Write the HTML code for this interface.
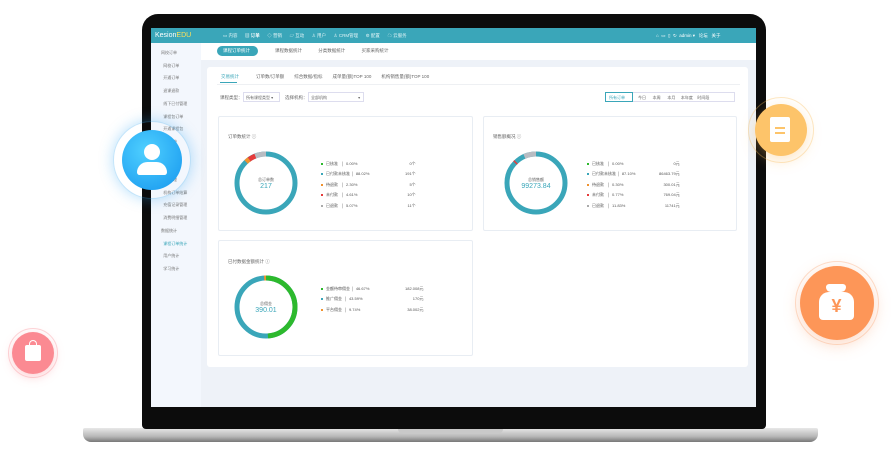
<!DOCTYPE html><html><head><meta charset="utf-8"><style>
*{margin:0;padding:0;box-sizing:border-box}
body{width:896px;height:457px;background:#fff;position:relative;overflow:hidden;font-family:"Liberation Sans","Noto Sans CJK SC",sans-serif;font-size:5px;color:#666}
.a{position:absolute}
.card{position:absolute;background:#fff;border:1px solid #e8edf3;border-radius:2px}
.t{position:absolute;white-space:nowrap}
.lg{position:absolute;font-size:4px;color:#555;white-space:nowrap}
.lg i{display:inline-block;width:2px;height:2px;margin-right:3px;vertical-align:middle}
</style></head><body>
<!-- base -->
<div class="a" style="left:83px;top:428px;width:735px;height:14px;background:linear-gradient(#e8e8e8,#b8b8b8 60%,#777);border-radius:2px 2px 8px 8px"></div>
<div class="a" style="left:398px;top:428px;width:105px;height:6px;background:#c9c9c9;border-radius:0 0 5px 5px"></div>
<!-- bezel -->
<div class="a" style="left:142px;top:14px;width:624px;height:415px;background:#0c0c0c;border-radius:16px 16px 4px 4px"></div>
<!-- screen -->
<div class="a" style="left:151px;top:28px;width:605px;height:379px;background:#eef2f8;overflow:hidden">
 <div class="a" style="left:0;top:0;width:605px;height:15px;background:#3aa6b9"></div>
 <div class="t" style="left:4px;top:4px;color:#fff;font-size:7px">Kesion<span style="color:#ffe15a">EDU</span></div>
 <div class="t" style="left:72px;top:5px;color:#dff3f6;font-size:4.5px;word-spacing:0">▭ 内容 &nbsp;&nbsp;&nbsp;&nbsp;&nbsp;<b style="color:#fff">▤ 订单</b> &nbsp;&nbsp;&nbsp;&nbsp;&nbsp;◇ 营销 &nbsp;&nbsp;&nbsp;&nbsp;&nbsp;▱ 互动 &nbsp;&nbsp;&nbsp;&nbsp;&nbsp;♙ 用户 &nbsp;&nbsp;&nbsp;&nbsp;&nbsp;♙ CRM管理 &nbsp;&nbsp;&nbsp;&nbsp;&nbsp;⚙ 配置 &nbsp;&nbsp;&nbsp;&nbsp;&nbsp;☁ 云服务</div>
 <div class="t" style="left:505px;top:5px;color:#fff;font-size:4.5px">⌂ &nbsp;▭ &nbsp;▯ &nbsp;↻ &nbsp;admin ▾ &nbsp;&nbsp;论坛 &nbsp;&nbsp;关于</div>
 <!-- sidebar -->
 <div class="a" style="left:0;top:15px;width:50px;height:364px;background:#f3f7fd"></div>
 <div class="t" style="left:10px;top:19px;line-height:12.7px;font-size:4px;color:#777">网校订单<br>&nbsp;&nbsp;网校订单<br>&nbsp;&nbsp;开通订单<br>&nbsp;&nbsp;退课退款<br>&nbsp;&nbsp;线下已付管理<br>&nbsp;&nbsp;课程包订单<br>&nbsp;&nbsp;开通课程包<br>课程订单<br>&nbsp;&nbsp;&nbsp;<br>&nbsp;&nbsp;&nbsp;<br>财务管理<br>&nbsp;&nbsp;机构订单结算<br>&nbsp;&nbsp;充值记录管理<br>&nbsp;&nbsp;消费明细管理<br>数据统计<br>&nbsp;&nbsp;<span style="color:#3aa6b9">课程订单统计</span><br>&nbsp;&nbsp;用户统计<br>&nbsp;&nbsp;学习统计</div>
 <!-- subtabs -->
 <div class="a" style="left:50px;top:15px;width:555px;height:17px;background:#fff"></div>
 <div class="a" style="left:66px;top:18px;width:41px;height:10px;background:#3aa6b9;border-radius:5px"></div>
 <div class="t" style="left:72px;top:20px;color:#fff;font-size:4.5px">课程订单统计</div>
 <div class="t" style="left:124px;top:20px;font-size:4.5px;color:#666">课程数据统计 &nbsp;&nbsp;&nbsp;&nbsp;&nbsp;&nbsp;&nbsp;&nbsp;&nbsp;&nbsp;&nbsp;&nbsp;分类数据统计 &nbsp;&nbsp;&nbsp;&nbsp;&nbsp;&nbsp;&nbsp;&nbsp;&nbsp;&nbsp;&nbsp;&nbsp;买家采购统计</div>
 <!-- panel -->
 <div class="a" style="left:56px;top:39px;width:541px;height:300px;background:#fff;border-radius:3px"></div>
 <div class="t" style="left:70px;top:46px;font-size:4.5px;color:#3aa6b9">交易统计</div>
 <div class="a" style="left:69px;top:54px;width:17px;height:1px;background:#3aa6b9"></div>
 <div class="t" style="left:105px;top:46px;font-size:4.5px;color:#666">订单数/订单额 &nbsp;&nbsp;&nbsp;&nbsp;&nbsp;&nbsp;&nbsp;综合数据/指标 &nbsp;&nbsp;&nbsp;&nbsp;&nbsp;&nbsp;&nbsp;成单量(额)TOP 100 &nbsp;&nbsp;&nbsp;&nbsp;&nbsp;&nbsp;&nbsp;机构销售量(额)TOP 100</div>
 <div class="a" style="left:66px;top:56px;width:523px;height:1px;background:#eef0f3"></div>
 <div class="t" style="left:69px;top:67px;font-size:4.5px">课程类型：</div>
 <div class="a" style="left:92px;top:64px;width:37px;height:10px;border:1px solid #dde;background:#fff"></div>
 <div class="t" style="left:95px;top:67px;font-size:4px">所有课程类型 ▾</div>
 <div class="t" style="left:134px;top:67px;font-size:4.5px">选择机构：</div>
 <div class="a" style="left:157px;top:64px;width:56px;height:10px;border:1px solid #dde;background:#fff"></div>
 <div class="t" style="left:160px;top:67px;font-size:4px">全部机构 <span style="margin-left:30px">▾</span></div>
 <div class="a" style="left:454px;top:64px;width:130px;height:10px;border:1px solid #dde;background:#fff"></div>
 <div class="a" style="left:454px;top:64px;width:28px;height:10px;border:1px solid #3aa6b9"></div>
 <div class="t" style="left:458px;top:67px;font-size:4px;color:#3aa6b9">所有订单</div>
 <div class="t" style="left:487px;top:67px;font-size:4px;word-spacing:0">今日 &nbsp;&nbsp;&nbsp;&nbsp;&nbsp;本周 &nbsp;&nbsp;&nbsp;&nbsp;&nbsp;本月 &nbsp;&nbsp;&nbsp;&nbsp;本年度 &nbsp;&nbsp;&nbsp;时间段</div>
 <!-- cards -->
 <div class="card" style="left:67px;top:88px;width:255px;height:115px"></div>
 <div class="card" style="left:332px;top:88px;width:254px;height:115px"></div>
 <div class="card" style="left:67px;top:212px;width:255px;height:116px"></div>
 <div class="t" style="left:77px;top:106px;font-size:4.5px">订单数统计 ⓘ</div>
 <div class="t" style="left:342px;top:106px;font-size:4.5px">销售额概况 ⓘ</div>
 <div class="t" style="left:77px;top:231px;font-size:4.5px">已付数据金额统计 ⓘ</div>
 <svg class="a" style="left:0;top:0" width="605" height="379">
  <g transform="translate(115,155) rotate(-90)" fill="none" stroke-width="5">
   <circle r="29" stroke="#3aa6b9"/>
   <circle r="29" stroke="#b8bcc2" stroke-dasharray="12 170" stroke-dashoffset="12"/>
   <circle r="29" stroke="#e53b3b" stroke-dasharray="8 175" stroke-dashoffset="20"/>
   <circle r="29" stroke="#f0922e" stroke-dasharray="4 180" stroke-dashoffset="24"/>
  </g>
  <g transform="translate(385,155) rotate(-90)" fill="none" stroke-width="5">
   <circle r="29" stroke="#3aa6b9"/>
   <circle r="29" stroke="#b8bcc2" stroke-dasharray="21 170" stroke-dashoffset="21"/>
   <circle r="29" stroke="#e53b3b" stroke-dasharray="1.5 180" stroke-dashoffset="23"/>
  </g>
  <g transform="translate(115,279) rotate(-90)" fill="none" stroke-width="5">
   <circle r="29" stroke="#3aa6b9"/>
   <circle r="29" stroke="#2db92d" stroke-dasharray="89 170" stroke-dashoffset="0"/>
   <circle r="29" stroke="#f0922e" stroke-dasharray="11 180" stroke-dashoffset="11"/>
  </g>
 </svg>
 <div class="t" style="left:100px;top:149px;font-size:4px;width:30px;text-align:center">总订单数<br><span style="font-size:7px;color:#3aa6b9">217</span></div>
 <div class="t" style="left:360px;top:149px;font-size:4px;width:50px;text-align:center">总销售额<br><span style="font-size:7px;color:#3aa6b9">99273.84</span></div>
 <div class="t" style="left:95px;top:273px;font-size:4px;width:40px;text-align:center">总佣金<br><span style="font-size:7px;color:#3aa6b9">390.01</span></div>
 <div class="lg" style="left:170px;top:131px;line-height:10.4px"><i style="background:#2db92d"></i>已核准 &nbsp;&nbsp;│ &nbsp;0.00%<br><i style="background:#3aa6b9"></i>已付款未核准 │ &nbsp;88.02%<br><i style="background:#f0922e"></i>待退款 &nbsp;&nbsp;│ &nbsp;2.30%<br><i style="background:#e53b3b"></i>未付款 &nbsp;&nbsp;│ &nbsp;4.61%<br><i style="background:#aaa"></i>已退款 &nbsp;&nbsp;│ &nbsp;5.07%</div>
 <div class="lg" style="left:254px;top:131px;line-height:10.4px;text-align:right">0个<br>191个<br>5个<br>10个<br>11个</div>
 <div class="lg" style="left:436px;top:131px;line-height:10.4px"><i style="background:#2db92d"></i>已核准 &nbsp;&nbsp;│ &nbsp;0.00%<br><i style="background:#3aa6b9"></i>已付款未核准 │ &nbsp;87.10%<br><i style="background:#f0922e"></i>待退款 &nbsp;&nbsp;│ &nbsp;0.30%<br><i style="background:#e53b3b"></i>未付款 &nbsp;&nbsp;│ &nbsp;0.77%<br><i style="background:#aaa"></i>已退款 &nbsp;&nbsp;│ &nbsp;11.83%</div>
 <div class="lg" style="left:508px;top:131px;line-height:10.4px;text-align:right">0元<br>86463.79元<br>300.01元<br>769.04元<br>11741元</div>
 <div class="lg" style="left:170px;top:256px;line-height:10.4px"><i style="background:#2db92d"></i>金额待审佣金 │ &nbsp;46.67%<br><i style="background:#3aa6b9"></i>推广佣金 &nbsp;│ &nbsp;43.59%<br><i style="background:#f0922e"></i>平台佣金 &nbsp;│ &nbsp;9.74%</div>
 <div class="lg" style="left:254px;top:256px;line-height:10.4px;text-align:right">182.008元<br>170元<br>38.002元</div>
</div>
<!-- floating icons -->
<div class="a" style="left:113px;top:121px;width:78px;height:78px;border-radius:50%;border:1px solid rgba(60,170,240,.3);box-shadow:0 0 14px rgba(40,160,240,.35)"></div>
<div class="a" style="left:122px;top:130px;width:60px;height:60px;border-radius:50%;background:radial-gradient(circle at 40% 35%,#4fd0ff,#1596ee)"></div>
<div class="a" style="left:144px;top:144px;width:16px;height:16px;border-radius:50%;background:#fff"></div>
<div class="a" style="left:137px;top:162px;width:30px;height:13px;border-radius:12px 12px 3px 3px;background:#fff"></div>
<div class="a" style="left:748px;top:97px;width:66px;height:66px;border-radius:50%;border:1px solid rgba(250,190,90,.35)"></div>
<div class="a" style="left:755px;top:104px;width:52px;height:52px;border-radius:50%;background:#fdc46a;box-shadow:0 4px 14px rgba(250,180,80,.35)"></div>
<div class="a" style="left:770px;top:117px;width:20px;height:25px;background:#fff;border-radius:2px"></div>
<div class="a" style="left:775px;top:127px;width:10px;height:1.5px;background:#fdc46a"></div>
<div class="a" style="left:775px;top:132px;width:10px;height:1.5px;background:#fdc46a"></div>
<div class="a" style="left:795px;top:261px;width:84px;height:84px;border-radius:50%;border:1px solid rgba(250,150,90,.3)"></div>
<div class="a" style="left:800px;top:266px;width:74px;height:74px;border-radius:50%;background:#fd9658;box-shadow:0 4px 16px rgba(250,140,80,.35)"></div>
<div class="a" style="left:819px;top:292px;width:35px;height:28px;background:#fff;border-radius:10px 10px 4px 4px;color:#fd9658;font-size:18px;font-weight:bold;text-align:center;line-height:28px">¥</div>
<div class="a" style="left:826px;top:284px;width:20px;height:8px;background:#fff;border-radius:4px 4px 6px 6px"></div>
<div class="a" style="left:8px;top:328px;width:50px;height:50px;border-radius:50%;border:1px solid rgba(250,120,130,.3)"></div>
<div class="a" style="left:12px;top:332px;width:42px;height:42px;border-radius:50%;background:#fb8a92;box-shadow:0 3px 10px rgba(250,120,130,.35)"></div>
<div class="a" style="left:25px;top:345px;width:16px;height:16px;background:#fff;border-radius:2px"></div>
<div class="a" style="left:29px;top:340px;width:8px;height:8px;border:1.5px solid #fff;border-radius:4px 4px 0 0;border-bottom:none"></div>
</body></html>
